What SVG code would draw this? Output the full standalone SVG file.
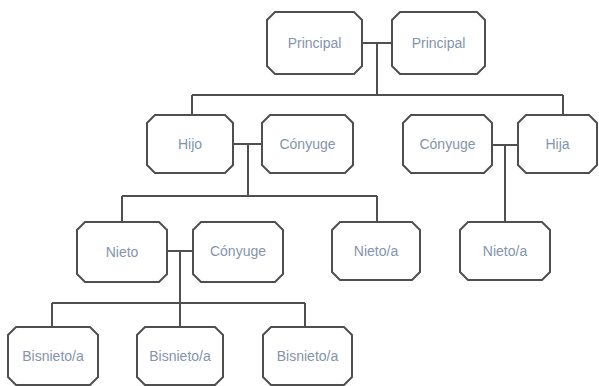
<svg xmlns="http://www.w3.org/2000/svg" width="599" height="386" viewBox="0 0 599 386">
<style>
.box{fill:#ffffff;stroke:#4f4f4f;stroke-width:2;stroke-linejoin:miter}
.lbl{font-family:"Liberation Sans",Arial,sans-serif;font-size:14px;fill:#8494ab;text-anchor:middle;dominant-baseline:central}
.ln{fill:none;stroke:#4f4f4f;stroke-width:2}
</style>
<rect width="599" height="386" fill="#ffffff"/>
<g id="connectors">
<path class="ln" d="M362,43 H392 M377,43 V95 M192,95 H563 M192,95 V115 M563,95 V115"/>
<path class="ln" d="M233,144 H262 M248,144 V196 M122,196 H377 M122,196 V222 M377,196 V222"/>
<path class="ln" d="M492,145 H518 M505,145 V222"/>
<path class="ln" d="M167,251 H193 M180,251 V327 M52,303 H305 M52,303 V327 M305,303 V327"/>
</g>
<g id="principal1"><path class="box" d="M275,12 H354 L362,20 V66 L354,74 H275 L267,66 V20 Z"/><text class="lbl" x="314.5" y="43">Principal</text></g>
<g id="principal2"><path class="box" d="M400,12 H477 L485,20 V66 L477,74 H400 L392,66 V20 Z"/><text class="lbl" x="438.5" y="43">Principal</text></g>
<g id="hijo"><path class="box" d="M155,115 H225 L233,123 V165 L225,173 H155 L147,165 V123 Z"/><text class="lbl" x="190" y="144">Hijo</text></g>
<g id="conyuge1"><path class="box" d="M270,115 H345 L353,123 V165 L345,173 H270 L262,165 V123 Z"/><text class="lbl" x="307.5" y="144">Cónyuge</text></g>
<g id="conyuge2"><path class="box" d="M411,115 H484 L492,123 V165 L484,173 H411 L403,165 V123 Z"/><text class="lbl" x="447.5" y="144">Cónyuge</text></g>
<g id="hija"><path class="box" d="M526,115 H589 L597,123 V165 L589,173 H526 L518,165 V123 Z"/><text class="lbl" x="557.5" y="144">Hija</text></g>
<g id="nieto"><path class="box" d="M85,222 H159 L167,230 V274 L159,282 H85 L77,274 V230 Z"/><text class="lbl" x="122" y="252">Nieto</text></g>
<g id="conyuge3"><path class="box" d="M201,222 H275 L283,230 V274 L275,282 H201 L193,274 V230 Z"/><text class="lbl" x="238" y="251">Cónyuge</text></g>
<g id="nieto1"><path class="box" d="M340,222 H412 L420,230 V272 L412,280 H340 L332,272 V230 Z"/><text class="lbl" x="376" y="251">Nieto/a</text></g>
<g id="nieto2"><path class="box" d="M468,222 H542 L550,230 V272 L542,280 H468 L460,272 V230 Z"/><text class="lbl" x="505" y="251">Nieto/a</text></g>
<g id="bisnieto1"><path class="box" d="M16,327 H90 L98,335 V377 L90,385 H16 L8,377 V335 Z"/><text class="lbl" x="53" y="356">Bisnieto/a</text></g>
<g id="bisnieto2"><path class="box" d="M145,327 H215 L223,335 V377 L215,385 H145 L137,377 V335 Z"/><text class="lbl" x="180" y="356">Bisnieto/a</text></g>
<g id="bisnieto3"><path class="box" d="M271,327 H344 L352,335 V377 L344,385 H271 L263,377 V335 Z"/><text class="lbl" x="307.5" y="356">Bisnieto/a</text></g>
</svg>
